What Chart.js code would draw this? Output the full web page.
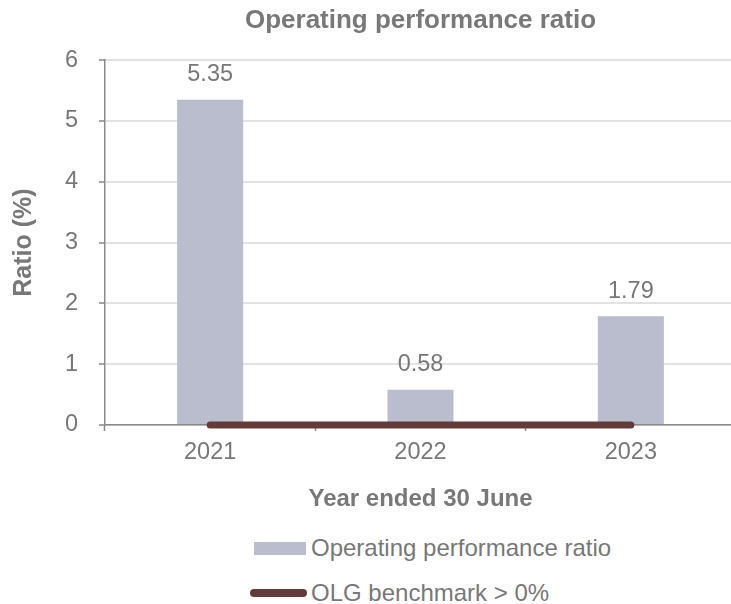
<!DOCTYPE html>
<html>
<head>
<meta charset="utf-8">
<title>Operating performance ratio</title>
<script src="https://cdn.jsdelivr.net/npm/chart.js@4.4.1/dist/chart.umd.min.js"></script>
<style>
    html, body {
        margin: 0;
        padding: 0;
        background: #ffffff;
    }

    body {
        width: 731px;
        height: 604px;
        overflow: hidden;
        position: relative;
        font-family: 'Liberation Sans', Arial, sans-serif;
    }

    .chart-wrap {
        position: absolute;
        left: 0;
        top: 0;
        width: 740px;
        height: 520px;
    }

    .legend-row {
        position: absolute;
        left: 0;
        height: 28px;
        width: 731px;
        font-size: 24px;
        line-height: 28px;
        color: #787878;
        white-space: nowrap;
    }

    .legend-row .label {
        position: absolute;
        left: 311px;
        top: 0;
    }

    .legend-box {
        position: absolute;
        left: 254px;
        top: 8px;
        width: 52px;
        height: 13px;
        background: #b9bdcd;
    }

    .legend-line {
        position: absolute;
        left: 250px;
        top: 10px;
        width: 57px;
        height: 8px;
        border-radius: 4px;
        background: #643b3b;
    }
</style>
</head>
<body>
<div class="chart-wrap">
    <canvas id="ratio-chart" width="740" height="520"></canvas>
</div>
<div class="legend-row" style="top: 534px;">
    <span class="legend-box"></span>
    <span class="label">Operating performance ratio</span>
</div>
<div class="legend-row" style="top: 579px;">
    <span class="legend-line"></span>
    <span class="label">OLG benchmark &gt; 0%</span>
</div>

<script>
const years = ['2021', '2022', '2023'];
const ratioValues = [5.35, 0.58, 1.79];
const benchmarkValues = [0, 0, 0];
const yTickValues = [0, 1, 2, 3, 4, 5, 6];

const chartTitle = 'Operating performance ratio';
const xAxisTitle = 'Year ended 30 June';
const yAxisTitle = 'Ratio (%)';
const ratioLabel = 'Operating performance ratio';
const benchmarkLabel = 'OLG benchmark > 0%';

const FONT_FAMILY = "'Liberation Sans', Arial, sans-serif";
const TEXT_COLOR = '#787878';
const AXIS_COLOR = '#8a8a8a';
const BAR_COLOR = '#b9bdcd';
const LINE_COLOR = '#643b3b';

// value labels above the bars
const barValueLabels = {
    id: 'barValueLabels',
    afterDatasetsDraw(chart) {
        const meta = chart.getDatasetMeta(0);
        const ctx = chart.ctx;
        ctx.save();
        ctx.font = `23.5px ${FONT_FAMILY}`;
        ctx.fillStyle = TEXT_COLOR;
        ctx.textAlign = 'center';
        ctx.textBaseline = 'middle';
        meta.data.forEach((bar, index) => {
            ctx.fillText(ratioValues[index].toFixed(2), bar.x, bar.y - 25);
        });
        ctx.restore();
    }
};

class OperatingRatioChart {
    constructor(canvas) {
        this.canvas = canvas;
        this.chartInstance = null;
        this.render();
    }

    buildConfig() {
        return {
            data: {
                labels: years,
                datasets: [{
                    type: 'bar',
                    label: ratioLabel,
                    data: ratioValues,
                    backgroundColor: BAR_COLOR,
                    barPercentage: 0.314,
                    categoryPercentage: 1,
                    order: 1
                }, {
                    type: 'line',
                    label: benchmarkLabel,
                    data: benchmarkValues,
                    borderColor: LINE_COLOR,
                    borderWidth: 7,
                    borderCapStyle: 'round',
                    pointRadius: 0,
                    fill: false,
                    clip: false,
                    order: 0
                }]
            },
            options: {
                responsive: false,
                animation: false,
                layout: {
                    padding: { left: 0, right: 4, top: 0, bottom: 0 }
                },
                plugins: {
                    legend: { display: false },
                    tooltip: { enabled: false },
                    title: {
                        display: true,
                        text: chartTitle,
                        fullSize: false,
                        color: TEXT_COLOR,
                        font: { family: FONT_FAMILY, size: 26, weight: 'bold' },
                        padding: { top: 5, bottom: 24 }
                    }
                },
                scales: {
                    x: {
                        offset: true,
                        afterFit: scale => { scale.height = 95; },
                        border: { color: AXIS_COLOR, width: 1.5 },
                        grid: {
                            offset: true,
                            drawOnChartArea: false,
                            tickLength: 6,
                            tickColor: AXIS_COLOR,
                            tickWidth: 1.5
                        },
                        ticks: {
                            color: TEXT_COLOR,
                            padding: 7,
                            font: { family: FONT_FAMILY, size: 23.5 }
                        },
                        title: {
                            display: true,
                            text: xAxisTitle,
                            color: TEXT_COLOR,
                            font: { family: FONT_FAMILY, size: 24, weight: 'bold' },
                            padding: { top: 0, bottom: 6.6 }
                        }
                    },
                    y: {
                        min: yTickValues[0],
                        max: yTickValues[yTickValues.length - 1],
                        afterFit: scale => { scale.width = 105; },
                        afterBuildTicks: scale => {
                            scale.ticks = yTickValues.map(value => ({ value }));
                        },
                        border: { color: AXIS_COLOR, width: 1.5 },
                        grid: {
                            color: '#e2e2e2',
                            lineWidth: 2,
                            tickLength: 6,
                            tickColor: AXIS_COLOR,
                            tickWidth: 1.5
                        },
                        ticks: {
                            color: TEXT_COLOR,
                            padding: 21,
                            font: { family: FONT_FAMILY, size: 23.5 }
                        },
                        title: {
                            display: true,
                            text: yAxisTitle,
                            color: TEXT_COLOR,
                            font: { family: FONT_FAMILY, size: 25, weight: 'bold' },
                            padding: { top: 9, bottom: 0 }
                        }
                    }
                }
            },
            plugins: [barValueLabels]
        };
    }

    render() {
        if (this.chartInstance) {
            this.chartInstance.destroy();
        }
        this.chartInstance = new Chart(this.canvas, this.buildConfig());
    }
}

document.addEventListener('DOMContentLoaded', () => {
    const canvas = document.getElementById('ratio-chart');
    if (!canvas || !window.Chart) {
        return;
    }
    new OperatingRatioChart(canvas);
});
</script>
</body>
</html>
